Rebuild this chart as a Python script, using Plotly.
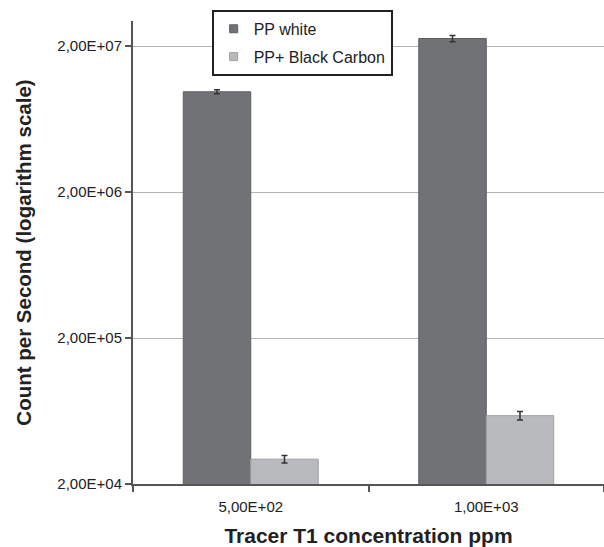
import plotly.graph_objects as go

categories = ["5,00E+02", "1,00E+03"]
pp_white = [9.75e6, 2.26e7]
pp_white_err = [3.0e5, 1.1e6]
pp_black_carbon = [2.96e4, 5.88e4]
pp_black_carbon_err = [1.7e3, 4.0e3]

y_tickvals = [2e4, 2e5, 2e6, 2e7]
y_ticktext = ["2,00E+04", "2,00E+05", "2,00E+06", "2,00E+07"]

series_names = ["PP white", "PP+ Black Carbon"]
series_colors = ["#717276", "#b9babd"]
series_edges = ["#5e5f62", "#9fa0a3"]

fig = go.Figure()
fig.add_trace(go.Bar(
    name=series_names[0], x=categories, y=pp_white, showlegend=False,
    marker=dict(color=series_colors[0], line=dict(color=series_edges[0], width=1)),
    error_y=dict(type="data", array=pp_white_err, color="#333333", thickness=1.5, width=3),
))
fig.add_trace(go.Bar(
    name=series_names[1], x=categories, y=pp_black_carbon, showlegend=False,
    marker=dict(color=series_colors[1], line=dict(color=series_edges[1], width=1)),
    error_y=dict(type="data", array=pp_black_carbon_err, color="#333333", thickness=1.5, width=3),
))
# legend entries with small square swatches
for i, (nm, col) in enumerate(zip(series_names, series_colors)):
    fig.add_trace(go.Scatter(
        x=[None], y=[None], mode="markers", name=nm, legendgroup=str(i),
        marker=dict(symbol="square", size=8, color=col, line=dict(color=series_edges[i], width=1)),
    ))

fig.update_layout(
    width=604, height=547,
    margin=dict(l=133, r=0, t=21, b=63, autoexpand=False),
    paper_bgcolor="white", plot_bgcolor="white",
    font=dict(family="Arial, Liberation Sans, sans-serif", color="#222222", size=15),
    barmode="group", bargap=0.427, bargroupgap=0,
    showlegend=True,
    legend=dict(
        x=0.167, y=1.024, xanchor="left", yanchor="top",
        bgcolor="white", bordercolor="#222222", borderwidth=2,
        font=dict(size=16, color="#222222"),
        tracegroupgap=4, itemwidth=30,
    ),
    xaxis=dict(
        type="category", tickson="boundaries", automargin=False,
        showline=True, linecolor="#555555", linewidth=2,
        ticks="outside", ticklen=6, tickcolor="#555555", tickwidth=2,
        showgrid=False, ticklabelstandoff=8,
        tickfont=dict(size=15, color="#222222"),
        title=dict(text="<b>Tracer T1 concentration ppm</b>",
                   font=dict(size=21, color="#222222"), standoff=16),
    ),
    yaxis=dict(
        type="log", range=[4.301, 7.474], automargin=False,
        tickvals=y_tickvals, ticktext=y_ticktext,
        showline=True, linecolor="#555555", linewidth=2,
        ticks="outside", ticklen=6, tickcolor="#555555", tickwidth=2,
        showgrid=True, gridcolor="#b4b4b4", gridwidth=1.3,
        tickfont=dict(size=15, color="#222222"),
        title=dict(text="<b>Count per Second (logarithm scale)</b>",
                   font=dict(size=20.5, color="#222222"), standoff=20),
    ),
)

fig.write_html("out.html", config={"displayModeBar": False},
               post_script="document.body.style.margin='0';document.body.style.overflow='hidden';")
